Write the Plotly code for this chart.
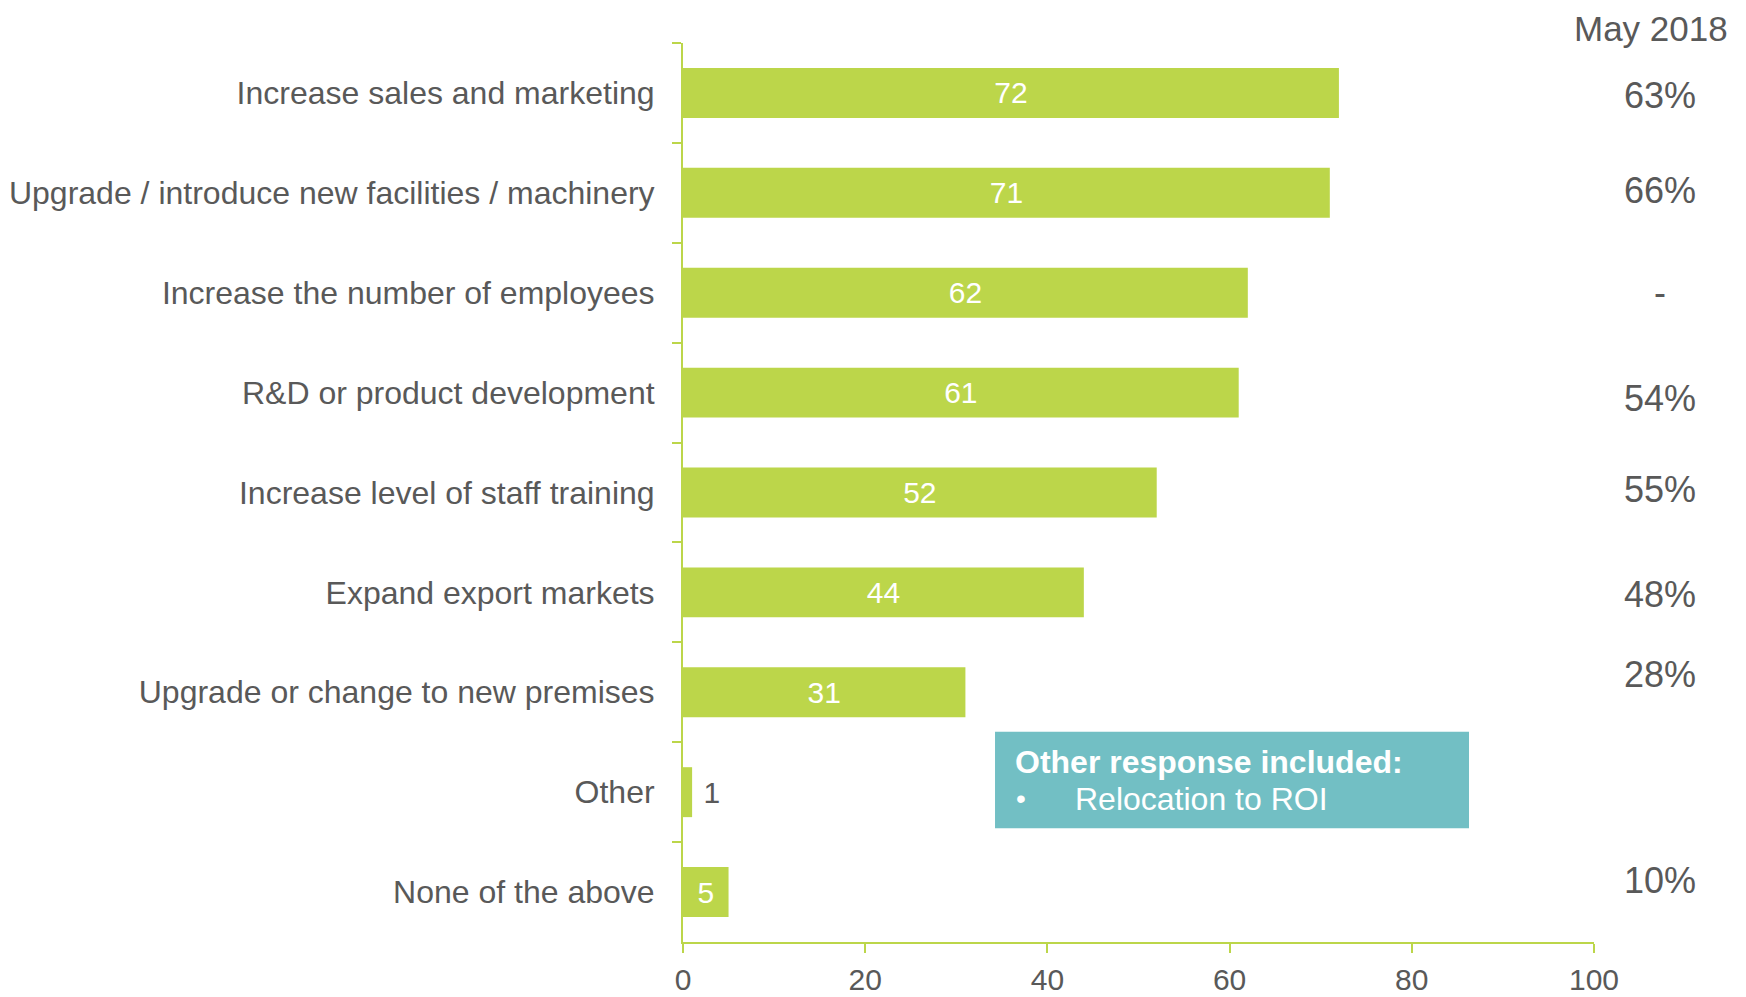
import plotly.graph_objects as go

categories = [
    "Increase sales and marketing",
    "Upgrade / introduce new facilities / machinery",
    "Increase the number of employees",
    "R&D or product development",
    "Increase level of staff training",
    "Expand export markets",
    "Upgrade or change to new premises",
    "Other",
    "None of the above",
]
values = [72, 71, 62, 61, 52, 44, 31, 1, 5]
may_2018 = ["63%", "66%", "-", "54%", "55%", "48%", "28%", "", "10%"]
x_ticks = [0, 20, 40, 60, 80, 100]

GREEN = "#BCD64A"
TEAL = "#72BFC4"
GREY = "#595959"
FONT = "Liberation Sans, Arial, sans-serif"

# small vertical nudges for the right-hand column (pixels)
pct_shift = [-3, 2, 0, -6, 3, -2, 18, 0, 12]

text_pos = ["outside" if v < 3 else "inside" for v in values]
bar_text = [("\u00a0" + str(v)) if p == "outside" else str(v) for v, p in zip(values, text_pos)]

fig = go.Figure(go.Bar(
    y=categories,
    x=values,
    orientation="h",
    marker=dict(color=GREEN, line=dict(width=0)),
    width=0.5,
    text=bar_text,
    textposition=text_pos,
    insidetextanchor="middle",
    insidetextfont=dict(color="white", size=30, family=FONT),
    outsidetextfont=dict(color=GREY, size=30, family=FONT),
    constraintext="none",
    cliponaxis=False,
))

annotations = []
for cat, p, s in zip(categories, may_2018, pct_shift):
    if p:
        annotations.append(dict(
            x=1.0725, xref="paper", y=cat, yref="y", text=p, showarrow=False,
            xanchor="center", yanchor="middle", yshift=s,
            font=dict(size=36, color=GREY, family=FONT),
        ))
annotations.append(dict(
    x=1.1493, xref="paper", y=1.016, yref="paper", text="May 2018", showarrow=False,
    xanchor="right", yanchor="middle", font=dict(size=35, color=GREY, family=FONT),
))
annotations.append(dict(
    x=36.2, xref="x", y=0.200, yref="paper", text="<b>Other response included:</b>",
    showarrow=False, xanchor="left", yanchor="middle",
    font=dict(size=32, color="white", family=FONT),
))
annotations.append(dict(
    x=36.3, xref="x", y=0.1594, yref="paper", text="•", showarrow=False,
    xanchor="left", yanchor="middle", font=dict(size=28, color="white", family=FONT),
))
annotations.append(dict(
    x=42.85, xref="x", y=0.1594, yref="paper", text="Relocation to ROI", showarrow=False,
    xanchor="left", yanchor="middle", font=dict(size=32, color="white", family=FONT),
))

fig.update_layout(
    width=1738, height=989,
    margin=dict(l=675, r=152, t=35, b=55),
    paper_bgcolor="white", plot_bgcolor="white",
    showlegend=False,
    font=dict(family=FONT, color=GREY),
    annotations=annotations,
    shapes=[dict(
        type="rect", xref="x", yref="paper", x0=34.25, x1=86.28, y0=0.1264, y1=0.2339,
        fillcolor=TEAL, line=dict(width=0), layer="above",
    )],
    xaxis=dict(
        range=[0, 100], tickvals=x_ticks, showgrid=False, zeroline=False,
        showline=True, linecolor=GREEN, linewidth=2, automargin=False,
        ticks="outside", ticklen=9, tickcolor=GREEN, tickwidth=2,
        ticklabelstandoff=1,
        tickfont=dict(size=30, color=GREY, family=FONT),
    ),
    yaxis=dict(
        autorange="reversed", showgrid=False, zeroline=False,
        showline=True, linecolor=GREEN, linewidth=2, automargin=False,
        ticks="outside", ticklen=9, tickcolor=GREEN, tickwidth=2,
        tickson="boundaries", ticklabelstandoff=20,
        tickfont=dict(size=32, color=GREY, family=FONT),
    ),
)

fig.write_html("out.html")
